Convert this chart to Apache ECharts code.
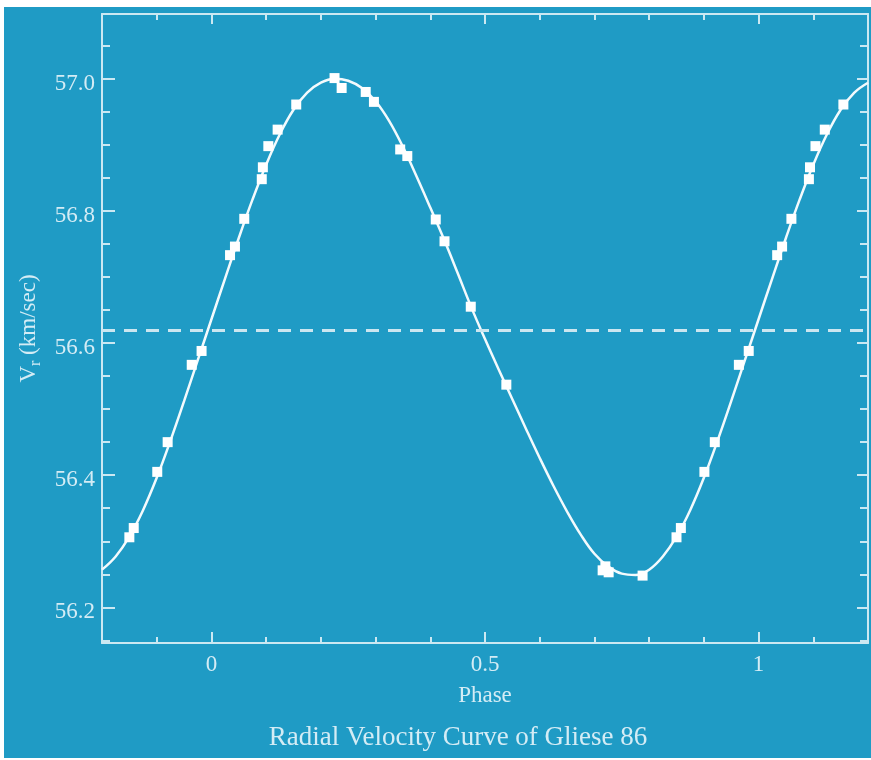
<!DOCTYPE html>
<html>
<head>
<meta charset="utf-8">
<script src="https://cdn.jsdelivr.net/npm/echarts@6/dist/echarts.min.js"></script>
<style>
html,body{margin:0;padding:0;background:#ffffff;}
#bg{position:absolute;left:4px;top:7px;right:0;bottom:2px;background:#1f9bc5;}
#chart{position:absolute;left:0;top:0;width:871px;height:760px;}
</style>
</head>
<body>
<div id="bg"></div>
<div id="chart"></div>
<script>
// ---- Data ----
const chartTitle = 'Radial Velocity Curve of Gliese 86';
const xName = 'Phase';

// observed radial velocities (phase in [0,1), km/s)
const obsPhase = [0.034, 0.043, 0.060, 0.092, 0.094, 0.104, 0.121, 0.155, 0.225, 0.238,
                  0.282, 0.297, 0.345, 0.358, 0.410, 0.426, 0.474, 0.539, 0.715, 0.720,
                  0.726, 0.788, 0.850, 0.858, 0.901, 0.920, 0.964, 0.982];
const obsVel   = [56.733, 56.746, 56.788, 56.848, 56.866, 56.898, 56.923, 56.961, 57.001, 56.986,
                  56.980, 56.965, 56.893, 56.883, 56.787, 56.754, 56.655, 56.537, 56.256, 56.262,
                  56.253, 56.248, 56.306, 56.320, 56.405, 56.450, 56.567, 56.588];

// fitted orbit curve
const curvePhase = [-0.200, -0.175, -0.150, -0.125, -0.100, -0.075, -0.050, -0.025,
                     0.000,  0.025,  0.050,  0.075,  0.100,  0.125,  0.150,  0.175,
                     0.200,  0.225,  0.250,  0.275,  0.300,  0.325,  0.350,  0.375,
                     0.400,  0.425,  0.450,  0.475,  0.500,  0.525,  0.550,  0.575,
                     0.600,  0.625,  0.650,  0.675,  0.700,  0.725,  0.750,  0.775,
                     0.800,  0.825,  0.850,  0.875,  0.900,  0.925,  0.950,  0.975,
                     1.000,  1.025,  1.050,  1.075,  1.100,  1.125,  1.150,  1.175,  1.200];
const curveVel   = [56.257, 56.277, 56.307, 56.347, 56.396, 56.452, 56.512, 56.574,
                    56.636, 56.698, 56.759, 56.817, 56.870, 56.916, 56.953, 56.979,
                    56.994, 57.000, 56.997, 56.986, 56.966, 56.936, 56.897, 56.852,
                    56.805, 56.757, 56.706, 56.654, 56.606, 56.560, 56.515, 56.470,
                    56.426, 56.384, 56.345, 56.310, 56.281, 56.262, 56.251, 56.249,
                    56.257, 56.277, 56.307, 56.347, 56.396, 56.452, 56.512, 56.574,
                    56.636, 56.698, 56.759, 56.817, 56.870, 56.916, 56.953, 56.979, 56.994];

const meanVelocity = 56.621;

// axes
const xMin = -0.2, xMax = 1.2;
const xMinorTicks = [-0.2, -0.1, 0, 0.1, 0.2, 0.3, 0.4, 0.5, 0.6, 0.7, 0.8, 0.9, 1.0, 1.1, 1.2];
const xTickLabels = [0, 0.5, 1];
const yMin = 56.146, yMax = 57.098;
const yMinorTicks = [56.15, 56.20, 56.25, 56.30, 56.35, 56.40, 56.45, 56.50, 56.55, 56.60,
                     56.65, 56.70, 56.75, 56.80, 56.85, 56.90, 56.95, 57.00, 57.05];
const yTickLabels = [56.2, 56.4, 56.6, 56.8, 57.0];

// ---- Build ----
const AX = '#cbe8f2';
const TXT = '#d4ecf5';
const FONT = '"Liberation Serif", "DejaVu Serif", serif';

const curveData = curvePhase.map((p, i) => [p, curveVel[i]]);
// phase-folded points, also repeated one cycle earlier/later where they fall in the window
const obsData = [];
obsPhase.forEach((p, i) => {
  [p - 1, p, p + 1].forEach(q => {
    if (q >= xMin && q <= xMax) obsData.push([q, obsVel[i]]);
  });
});

const tickStyle = {color: AX, width: 2};
function xAx(pos, ticks, len, withLine, withLabels, extra) {
  return Object.assign({
    type: 'value', position: pos, min: xMin, max: xMax,
    axisLine: {show: withLine, onZero: false, lineStyle: {color: AX, width: 2}},
    axisTick: {show: true, inside: true, length: len, customValues: ticks, lineStyle: tickStyle},
    axisLabel: withLabels ? {show: true, customValues: xTickLabels, margin: 10, color: TXT,
                fontFamily: FONT, fontSize: 23} : {show: false},
    splitLine: {show: false}
  }, extra || {});
}
function yAx(pos, ticks, len, withLine, withLabels, extra) {
  return Object.assign({
    type: 'value', position: pos, min: yMin, max: yMax,
    axisLine: {show: withLine, onZero: false, lineStyle: {color: AX, width: 2}},
    axisTick: {show: true, inside: true, length: len, customValues: ticks, lineStyle: tickStyle},
    axisLabel: withLabels ? {show: true, customValues: yTickLabels, margin: 7, color: TXT,
                fontFamily: FONT, fontSize: 23, verticalAlign: 'top', lineHeight: 10,
                formatter: v => Number(v).toFixed(1)} : {show: false},
    splitLine: {show: false}
  }, extra || {});
}

const chart = echarts.init(document.getElementById('chart'), null, {renderer: 'canvas'});
chart.setOption({
  backgroundColor: 'transparent',
  animation: false,
  grid: {left: 102, right: 3, top: 14, bottom: 117, containLabel: false},
  graphic: [{
    type: 'text', x: 458, y: 738,
    style: {text: chartTitle, fill: TXT, font: '27px "Liberation Serif", serif',
            align: 'center', verticalAlign: 'middle'}
  }],
  xAxis: [
    xAx('bottom', xMinorTicks, 6, true, false, {
      name: xName, nameLocation: 'middle', nameGap: 41,
      nameTextStyle: {color: TXT, fontFamily: FONT, fontSize: 23}
    }),
    xAx('bottom', xTickLabels, 11, false, true),
    xAx('top', xMinorTicks, 6, true, false),
    xAx('top', xTickLabels, 10, false, false)
  ],
  yAxis: [
    yAx('left', yMinorTicks, 8, true, false, {
      name: '{v|V}{s|r}{v| (km/sec)}', nameLocation: 'middle', nameRotate: 90, nameGap: 58,
      nameTextStyle: {color: TXT, fontFamily: FONT, fontSize: 23,
        rich: {
          v: {color: TXT, fontFamily: FONT, fontSize: 23, lineHeight: 30, verticalAlign: 'middle'},
          s: {color: TXT, fontFamily: FONT, fontSize: 16, lineHeight: 16, verticalAlign: 'bottom'}
        }}
    }),
    yAx('left', yTickLabels, 13, false, true),
    yAx('right', yMinorTicks, 8, true, false),
    yAx('right', yTickLabels, 11, false, false)
  ],
  series: [
    {
      type: 'line', xAxisIndex: 0, yAxisIndex: 0, data: curveData,
      smooth: 0.4, showSymbol: false, silent: true,
      lineStyle: {color: '#f3fafd', width: 2.5},
      markLine: {
        symbol: 'none', silent: true, label: {show: false},
        lineStyle: {type: [13, 9], color: '#cbe6f0', width: 3},
        data: [{yAxis: meanVelocity}]
      },
      z: 3
    },
    {
      type: 'scatter', xAxisIndex: 0, yAxisIndex: 0, data: obsData,
      symbol: 'rect', symbolSize: 10,
      itemStyle: {color: '#ffffff', opacity: 1}, z: 4
    }
  ]
});
</script>
</body>
</html>
